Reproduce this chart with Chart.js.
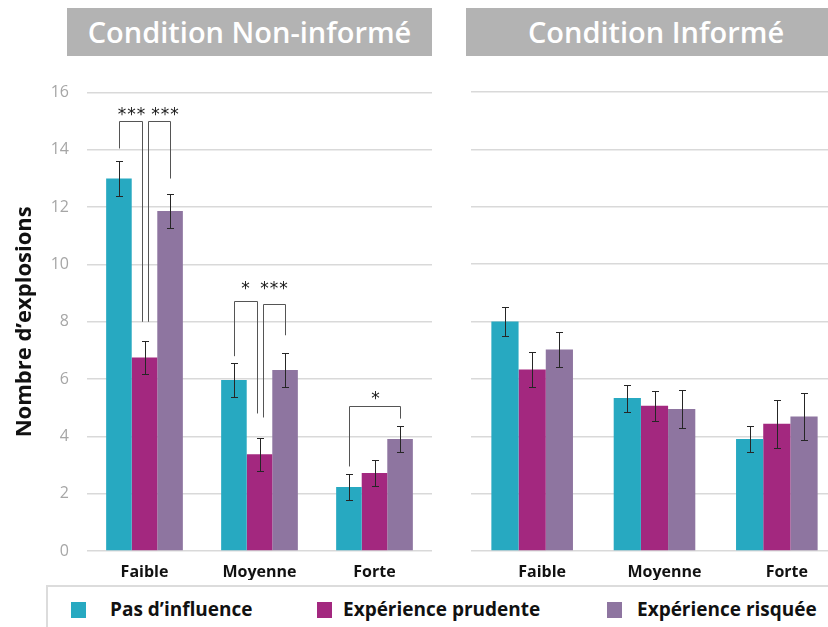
<!DOCTYPE html>
<html lang="fr">
<head>
    <meta charset="UTF-8">
    <title>Nombre d'explosions</title>
    <script src="https://cdn.jsdelivr.net/npm/chart.js"></script>
    <style>
        body {
            margin: 0;
            background: #fff;
            font-family: "Open Sans", sans-serif;
        }

        #wrap {
            position: relative;
            width: 828px;
            height: 627px;
            overflow: hidden;
        }

        .banner {
            position: absolute;
            top: 8px;
            height: 48px;
            background: #b3b3b3;
            color: #fff;
            font-weight: 600;
            font-size: 29px;
            line-height: 48px;
            text-align: center;
        }

        .panel {
            position: absolute;
        }

        #legendBox {
            position: absolute;
            left: 46px;
            top: 585px;
            width: 800px;
            height: 60px;
            border: 2px solid #dcdcdc;
        }

        .swatch {
            position: absolute;
            top: 602px;
            width: 15px;
            height: 16px;
        }

        .legText {
            position: absolute;
            top: 599px;
            font-weight: 700;
            font-size: 19px;
            line-height: 20px;
            color: #111;
            white-space: nowrap;
        }
    </style>
</head>
<body>
<div id="wrap">
    <div class="banner" style="left:67px; width:365px;">Condition Non-informé</div>
    <div class="banner" style="left:466px; width:380px;">Condition Informé</div>

    <div class="panel" style="left:0; top:65px; width:440px; height:515px;"><canvas id="chartNonInfo"></canvas></div>
    <div class="panel" style="left:466px; top:80px; width:380px; height:500px;"><canvas id="chartInfo"></canvas></div>

    <div id="legendBox"></div>
    <div id="legend"></div>
</div>

<script>
    // catégories et séries
    const categories = ['Faible', 'Moyenne', 'Forte'];
    const seriesNames = ['Pas d’influence', 'Expérience prudente', 'Expérience risquée'];
    const seriesColors = ['#27a9c1', '#a3287f', '#8e75a0'];

    // Condition Non-informé : moyennes et erreurs
    const nonInfoPas = [13.0, 5.97, 2.23];
    const nonInfoPrudente = [6.75, 3.38, 2.72];
    const nonInfoRisquee = [11.87, 6.32, 3.91];
    const nonInfoErrPas = [0.6, 0.59, 0.45];
    const nonInfoErrPrudente = [0.58, 0.58, 0.44];
    const nonInfoErrRisquee = [0.6, 0.59, 0.46];

    // Condition Informé : moyennes et erreurs
    const infoPas = [8.0, 5.33, 3.9];
    const infoPrudente = [6.33, 5.06, 4.44];
    const infoRisquee = [7.02, 4.95, 4.69];
    const infoErrPas = [0.52, 0.47, 0.44];
    const infoErrPrudente = [0.62, 0.52, 0.84];
    const infoErrRisquee = [0.62, 0.66, 0.83];

    const yTicks = [0, 2, 4, 6, 8, 10, 12, 14, 16];

    // comparaisons significatives (valeurs en unités de l'axe)
    const nonInfoBrackets = [
        { cat: 0, from: 0, to: 1, top: 15.0, fromEnd: 14.05, toEnd: 8.0, label: '***', labelAt: 15.35, nudge: 1 },
        { cat: 0, from: 1, to: 2, top: 15.0, fromEnd: 8.0, toEnd: 13.0, label: '***', labelAt: 15.35, nudge: 6 },
        { cat: 1, from: 0, to: 1, top: 8.74, fromEnd: 6.8, toEnd: 4.8, label: '*', labelAt: 9.28, nudge: 0 },
        { cat: 1, from: 1, to: 2, top: 8.61, fromEnd: 4.66, toEnd: 7.53, label: '***', labelAt: 9.28, nudge: 0 },
        { cat: 2, from: 0, to: 2, top: 5.06, fromEnd: 2.95, toEnd: 4.62, label: '*', labelAt: 5.42, nudge: 1 }
    ];

    const errorBarPlugin = {
        id: 'errorBars',
        afterDatasetsDraw(chart) {
            const ctx = chart.ctx;
            const y = chart.scales.y;
            ctx.save();
            ctx.strokeStyle = '#262626';
            ctx.lineWidth = 1;
            chart.data.datasets.forEach((ds, i) => {
                chart.getDatasetMeta(i).data.forEach((bar, j) => {
                    const v = ds.data[j];
                    const e = ds.errors[j];
                    const top = Math.round(y.getPixelForValue(v + e)) + 0.5;
                    const bot = Math.round(y.getPixelForValue(v - e)) + 0.5;
                    const x = Math.round(bar.x) + 0.5;
                    ctx.beginPath();
                    ctx.moveTo(x, top); ctx.lineTo(x, bot);
                    ctx.moveTo(x - 3.5, top); ctx.lineTo(x + 3.5, top);
                    ctx.moveTo(x - 3.5, bot); ctx.lineTo(x + 3.5, bot);
                    ctx.stroke();
                });
            });
            ctx.restore();
        }
    };

    const bracketPlugin = {
        id: 'brackets',
        afterDatasetsDraw(chart, args, opts) {
            if (!opts.items) return;
            const ctx = chart.ctx;
            const y = chart.scales.y;
            const gap = 3; // décalage des pattes sur la barre du milieu
            ctx.save();
            opts.items.forEach(b => {
                let x1 = chart.getDatasetMeta(b.from).data[b.cat].x;
                let x2 = chart.getDatasetMeta(b.to).data[b.cat].x;
                if (b.from === 1) x1 += gap;
                if (b.to === 1) x2 -= gap;
                x1 = Math.round(x1) + 0.5;
                x2 = Math.round(x2) + 0.5;
                const yt = Math.round(y.getPixelForValue(b.top)) + 0.5;
                ctx.strokeStyle = '#555';
                ctx.lineWidth = 1;
                ctx.beginPath();
                ctx.moveTo(x1, y.getPixelForValue(b.fromEnd));
                ctx.lineTo(x1, yt);
                ctx.lineTo(x2, yt);
                ctx.lineTo(x2, y.getPixelForValue(b.toEnd));
                ctx.stroke();

                ctx.fillStyle = '#1a1a1a';
                ctx.font = '17px "DejaVu Sans"';
                ctx.letterSpacing = '1px';
                ctx.textAlign = 'center';
                ctx.textBaseline = 'alphabetic';
                const m = ctx.measureText(b.label);
                const cy = y.getPixelForValue(b.labelAt);
                ctx.fillText(b.label, (x1 + x2) / 2 + b.nudge, cy + (m.actualBoundingBoxAscent - m.actualBoundingBoxDescent) / 2);
            });
            ctx.restore();
        }
    };

    function makeDatasets(values, errors) {
        return values.map((vals, i) => ({
            label: seriesNames[i],
            data: vals,
            errors: errors[i],
            backgroundColor: seriesColors[i],
            borderWidth: 0,
            categoryPercentage: 0.667,
            barPercentage: 1.0
        }));
    }

    function makeChart(id, datasets, showY, padLeft, labelOffset, brackets) {
        return new Chart(document.getElementById(id), {
            type: 'bar',
            data: { labels: categories, datasets: datasets },
            plugins: [errorBarPlugin, bracketPlugin],
            options: {
                responsive: true,
                maintainAspectRatio: false,
                animation: false,
                layout: { padding: { top: 12, left: padLeft, right: 8, bottom: 0 } },
                plugins: {
                    legend: { display: false },
                    tooltip: { enabled: false },
                    brackets: { items: brackets }
                },
                scales: {
                    x: {
                        grid: { display: false },
                        border: { display: false },
                        ticks: {
                            color: '#111',
                            padding: 4,
                            labelOffset: labelOffset,
                            font: { family: 'Open Sans', size: 16, weight: 'bold' }
                        },
                        afterFit: s => { s.height = 29; }
                    },
                    y: {
                        min: 0,
                        max: 16,
                        afterBuildTicks: s => { s.ticks = yTicks.map(v => ({ value: v })); },
                        grid: { color: '#d9d9d9', lineWidth: 1.5, drawTicks: false },
                        border: { display: false },
                        ticks: {
                            display: showY,
                            color: '#a6a6a6',
                            padding: 18,
                            font: { family: 'Open Sans', size: 16 }
                        },
                        title: {
                            display: showY,
                            text: 'Nombre d’explosions',
                            color: '#111',
                            padding: { top: 12, bottom: 0 },
                            font: { family: 'Open Sans', size: 22, weight: 'bold' }
                        },
                        afterFit: s => { s.width = showY ? 87 : 0; }
                    }
                }
            }
        });
    }

    makeChart('chartNonInfo',
        makeDatasets([nonInfoPas, nonInfoPrudente, nonInfoRisquee],
                     [nonInfoErrPas, nonInfoErrPrudente, nonInfoErrRisquee]),
        true, 0, 0, nonInfoBrackets);

    makeChart('chartInfo',
        makeDatasets([infoPas, infoPrudente, infoRisquee],
                     [infoErrPas, infoErrPrudente, infoErrRisquee]),
        false, 5, 10, null);

    // légende
    const swatchLeft = [71, 317, 607];
    const textLeft = [110, 343, 637];
    const legend = document.getElementById('legend');
    seriesNames.forEach((name, i) => {
        const sw = document.createElement('div');
        sw.className = 'swatch';
        sw.style.left = swatchLeft[i] + 'px';
        sw.style.background = seriesColors[i];
        legend.appendChild(sw);
        const t = document.createElement('div');
        t.className = 'legText';
        t.style.left = textLeft[i] + 'px';
        t.textContent = name;
        legend.appendChild(t);
    });
</script>
</body>
</html>
